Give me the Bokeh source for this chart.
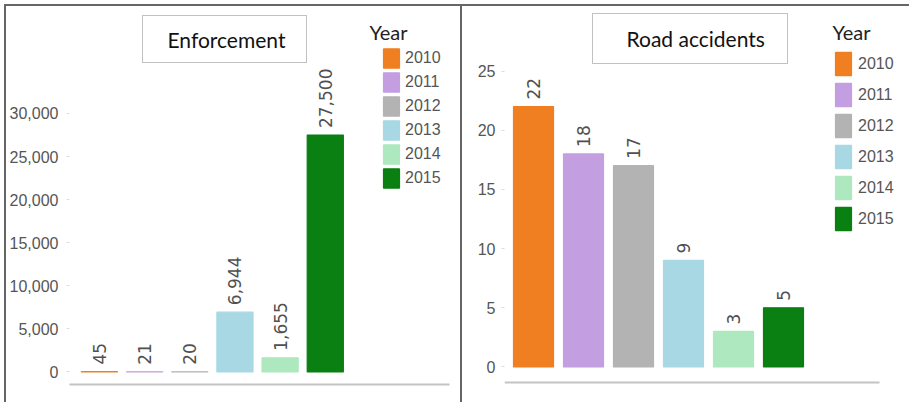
import math
from bokeh.plotting import figure
from bokeh.models import (ColumnDataSource, Range1d, FixedTicker, LabelSet, Label,
                          BoxAnnotation, NumeralTickFormatter)
from bokeh.core.properties import value
from bokeh.layouts import row
from bokeh.embed import file_html
from bokeh.resources import INLINE

# ---- data ----
years = ["2010", "2011", "2012", "2013", "2014", "2015"]
colors = ["#F07F22", "#C39EE0", "#B3B3B3", "#A8D8E3", "#AEE8BF", "#0A7F12"]
enforcement = [45, 21, 20, 6944, 1655, 27500]
accidents = [22, 18, 17, 9, 3, 5]
enf_ticks = [0, 5000, 10000, 15000, 20000, 25000, 30000]
acc_ticks = [0, 5, 10, 15, 20, 25]
titles = ["Enforcement", "Road accidents"]
legend_title = "Year"

SANS = "Liberation Sans"
BORDER = {"border-left": "2px solid #666666", "border-top": "2px solid #666666",
          "box-sizing": "border-box"}


def panel(vals, ticks, fmt, title, cfg):
    p = figure(width=cfg["w"], height=398, output_backend="svg", toolbar_location=None,
               min_border_left=cfg["bl"], min_border_right=cfg["br"],
               min_border_top=2, min_border_bottom=cfg["bb"],
               x_axis_location="below" if cfg["axis_line"] else None,
               x_range=Range1d(*cfg["xr"]), y_range=Range1d(*cfg["yr"]))
    p.margin = cfg["margin"]
    p.styles = BORDER
    p.outline_line_color = None
    p.grid.visible = False
    src = ColumnDataSource(dict(x=list(range(len(years))), y=vals, year=years, color=colors,
                                txt=[f"{v:,}" for v in vals]))
    p.vbar(x="x", top="y", bottom=0, width=0.8, source=src, fill_color="color",
           line_color="color", line_width=1.2, legend_field="year")
    labels = LabelSet(x="x", y="y", text="txt", source=src, angle=math.pi / 2,
                      text_align="left", text_baseline="middle", y_offset=7,
                      text_font=value("DejaVu Sans"), text_font_size="17px", text_color="#505050")
    p.add_layout(labels)

    ya = p.yaxis[0]
    ya.ticker = FixedTicker(ticks=ticks)
    ya.formatter = NumeralTickFormatter(format=fmt)
    ya.axis_line_color = None
    ya.major_tick_line_color = "#DDDDDD"
    ya.major_tick_in = 0
    ya.major_tick_out = 3
    ya.minor_tick_line_color = None
    ya.major_label_standoff = cfg["standoff"]
    ya.major_label_text_font = SANS
    ya.major_label_text_font_size = "16px"
    ya.major_label_text_color = "#555555"

    if cfg["axis_line"]:
        xa = p.xaxis[0]
        xa.ticker = FixedTicker(ticks=[])
        xa.axis_line_color = "#C4C4C4"
        xa.axis_line_width = 2
        xa.major_tick_line_color = None
        xa.minor_tick_line_color = None
    else:
        bl = cfg["baseline"]
        p.add_layout(BoxAnnotation(right=bl[0], bottom=bl[1], top=bl[2],
                                   right_units="screen", top_units="screen",
                                   bottom_units="screen", fill_color="#C4C4C4",
                                   fill_alpha=1, line_color=None))

    lg = p.legend[0]
    lg.location = cfg["leg_loc"]
    lg.glyph_width = 20
    lg.glyph_height = cfg["gh"]
    lg.spacing = cfg["sp"]
    lg.label_standoff = cfg["ls"]
    lg.padding = 0
    lg.margin = 0
    lg.border_line_color = None
    lg.background_fill_alpha = 0
    lg.label_text_font = SANS
    lg.label_text_font_size = "16px"
    lg.label_text_color = "#555555"
    lg.label_height = 18

    # title box
    bx = cfg["box"]
    p.add_layout(BoxAnnotation(left=bx[0], right=bx[1], top=bx[2], bottom=bx[3],
                               left_units="screen", right_units="screen",
                               top_units="screen", bottom_units="screen",
                               fill_alpha=0, line_color="#333333", line_width=1))
    p.add_layout(Label(x=cfg["tx"][0], y=cfg["tx"][1], x_units="screen", y_units="screen",
                       text=title, text_font="Lato", text_font_size="21px",
                       text_baseline="middle", text_color="#111111"))
    p.add_layout(Label(x=cfg["yr_lbl"][0], y=cfg["yr_lbl"][1], x_units="screen", y_units="screen",
                       text=legend_title, text_font="Lato", text_font_size="20px",
                       text_baseline="top", text_color="#222222"))
    return p


cfg1 = dict(w=456, margin=(4, 0, 0, 4), bl=56, br=13, bb=20, xr=(-0.663, 7.75),
            yr=(-1451, 42184), standoff=8, axis_line=True,
            leg_loc=(312, 194), gh=24, sp=0, ls=4,
            box=(73, 237, 369, 322), tx=(98, 345.5), yr_lbl=(300, 365))
cfg2 = dict(w=449, margin=(4, 0, 0, 0), bl=42, br=6, bb=20, xr=(-0.58, 7.44),
            yr=(-1.48, 30.28), standoff=6, axis_line=False, baseline=(375, 1, 3),
            leg_loc=(329, 151), gh=29, sp=2, ls=5,
            box=(88, 283, 371, 321), tx=(122, 346), yr_lbl=(328, 365))

p1 = panel(enforcement, enf_ticks, "0,0", titles[0], cfg1)
p2 = panel(accidents, acc_ticks, "0", titles[1], cfg2)

layout = row(p1, p2)
open("out.html", "w").write(file_html(layout, INLINE))
